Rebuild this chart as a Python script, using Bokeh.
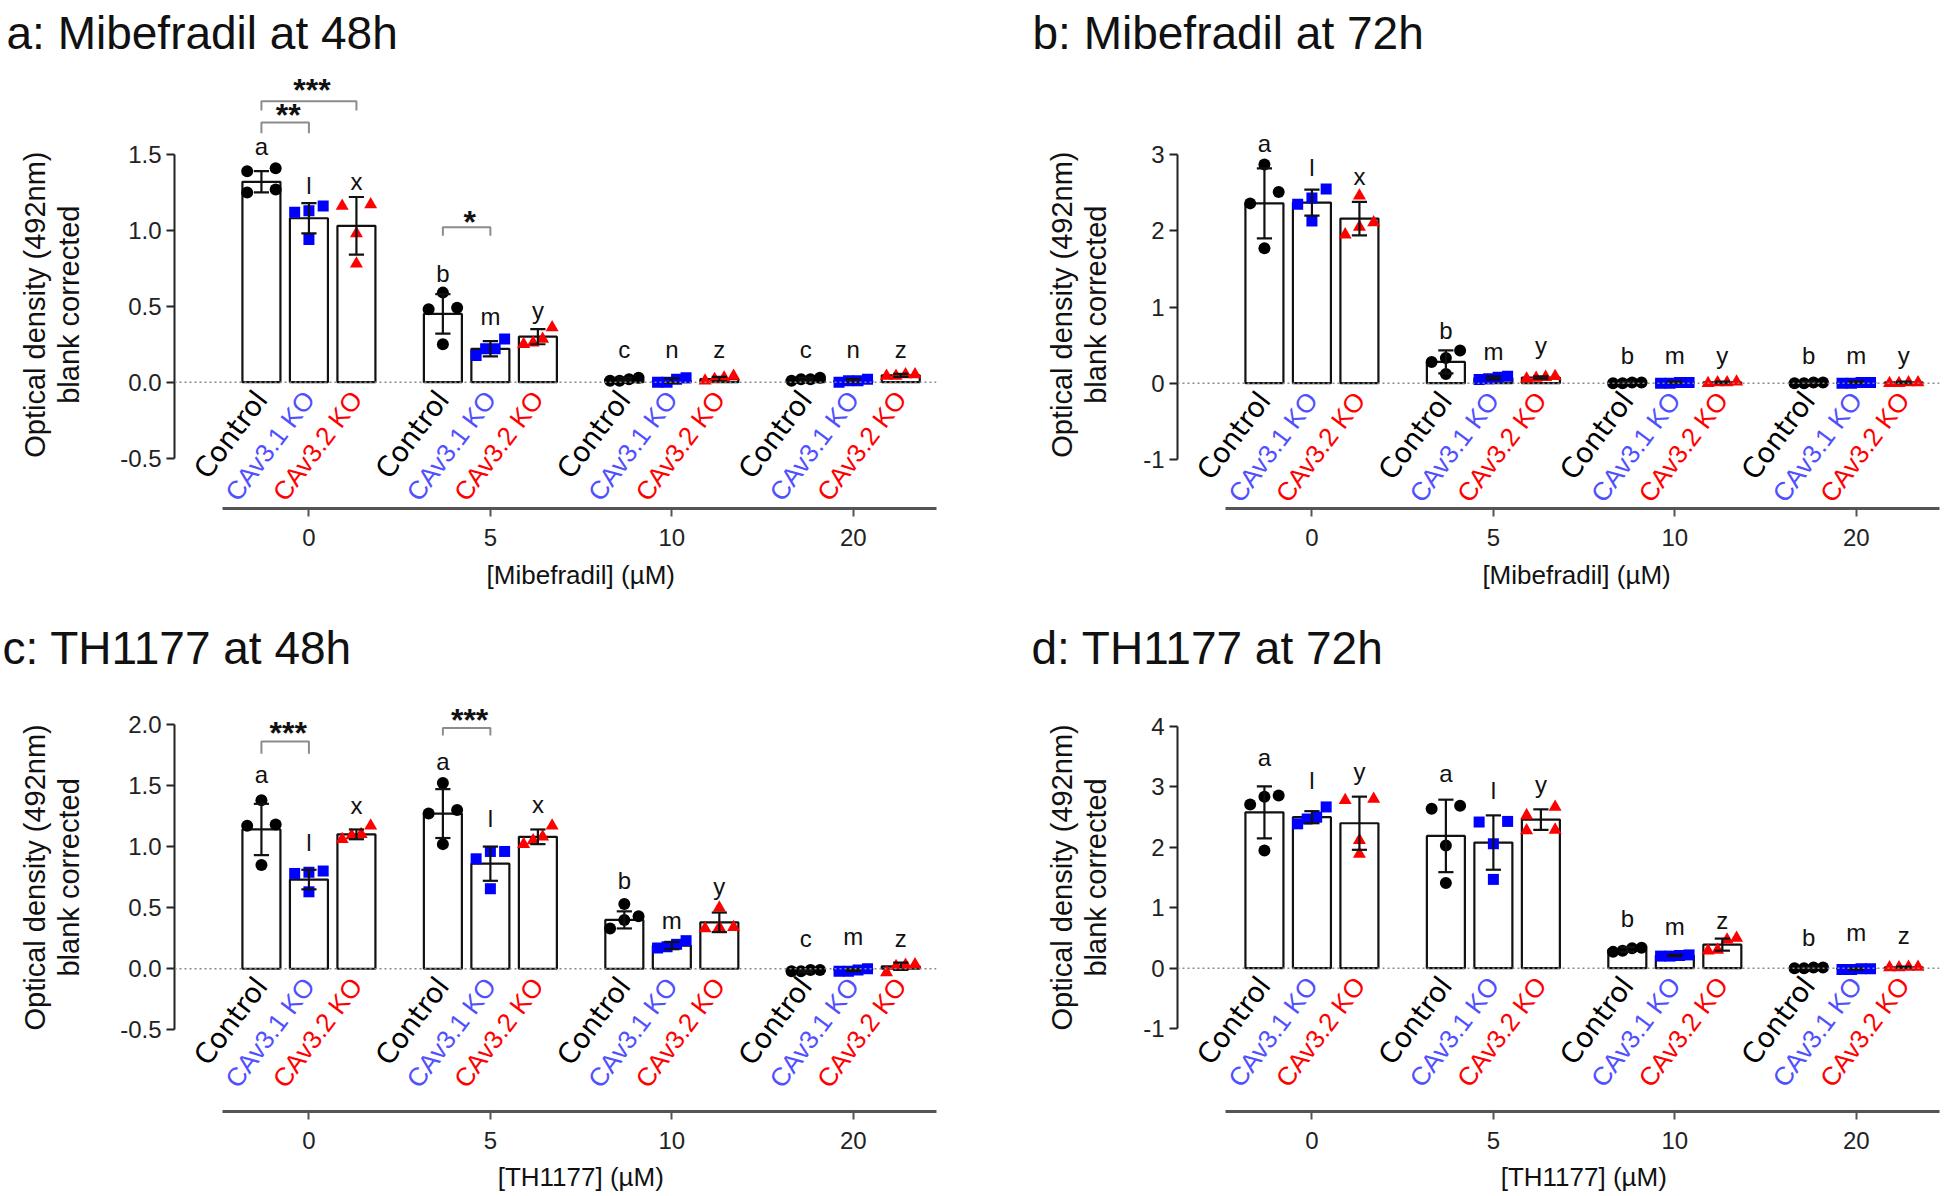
import math
from bokeh.plotting import figure
from bokeh.models import Range1d, FixedTicker, Span, ColumnDataSource
from bokeh.layouts import row, column
from bokeh.embed import file_html
from bokeh.resources import INLINE
from bokeh.core.properties import value

# ------------------------------------------------------------------ data
cell_lines = ["Control", "CAv3.1 KO", "CAv3.2 KO"]
doses = ["0", "5", "10", "20"]
y_title_lines = ["Optical density (492nm)", "blank corrected"]

# a: Mibefradil at 48h
a_ctrl_mean = [1.32, 0.45, 0.02, 0.02]
a_ctrl_sd = [0.07, 0.13, 0.01, 0.01]
a_ko31_mean = [1.08, 0.22, 0.01, 0.01]
a_ko31_sd = [0.10, 0.05, 0.015, 0.01]
a_ko32_mean = [1.03, 0.30, 0.02, 0.045]
a_ko32_sd = [0.19, 0.05, 0.015, 0.01]
a_ctrl_pts = [[1.39, 1.41, 1.25, 1.27], [0.59, 0.49, 0.48, 0.25], [0.01, 0.02, 0.03, 0.01], [0.02, 0.03, 0.01, 0.02]]
a_ko31_pts = [[1.16, 1.12, 1.13, 0.94], [0.175, 0.22, 0.285, 0.22], [0.0, 0.03, 0.02, 0.0], [0.0, 0.01, 0.02, 0.01]]
a_ko32_pts = [[1.16, 1.17, 0.98, 0.78], [0.25, 0.285, 0.36, 0.26], [0.01, 0.04, 0.02, 0.03], [0.04, 0.05, 0.04, 0.05]]
a_letters = ["a", "l", "x", "b", "m", "y", "c", "n", "z", "c", "n", "z"]
a_letter_y = [1.54, 1.28, 1.31, 0.70, 0.42, 0.46, 0.20, 0.20, 0.20, 0.20, 0.20, 0.20]
a_brackets = [(0, 0, 1, 1.71, 1.64, "**", 1.79), (0, 0, 2, 1.85, 1.79, "***", 1.96), (1, 0, 1, 1.02, 0.965, "*", 1.09)]
a_yticks = [-0.5, 0.0, 0.5, 1.0, 1.5]
a_yticklabels = ["-0.5", "0.0", "0.5", "1.0", "1.5"]

# b: Mibefradil at 72h
b_ctrl_mean = [2.36, 0.28, 0.01, 0.01]
b_ctrl_sd = [0.46, 0.15, 0.01, 0.01]
b_ko31_mean = [2.37, 0.07, 0.01, 0.01]
b_ko31_sd = [0.17, 0.02, 0.01, 0.01]
b_ko32_mean = [2.16, 0.075, 0.01, 0.01]
b_ko32_sd = [0.22, 0.015, 0.01, 0.01]
b_ctrl_pts = [[2.87, 2.51, 2.36, 1.77], [0.43, 0.33, 0.28, 0.12], [0.0, 0.01, 0.01, 0.0], [0.0, 0.01, 0.01, 0.0]]
b_ko31_pts = [[2.43, 2.55, 2.35, 2.13], [0.09, 0.06, 0.05, 0.08], [0.0, 0.01, 0.01, 0.0], [0.01, 0.0, 0.0, 0.01]]
b_ko32_pts = [[2.46, 2.11, 2.05, 1.95], [0.08, 0.09, 0.07, 0.06], [0.0, 0.01, 0.01, 0.02], [0.0, 0.01, 0.0, 0.01]]
b_letters = ["a", "l", "x", "b", "m", "y", "b", "m", "y", "b", "m", "y"]
b_letter_y = [3.12, 2.81, 2.68, 0.66, 0.39, 0.47, 0.34, 0.34, 0.34, 0.34, 0.34, 0.34]
b_brackets = []
b_yticks = [-1, 0, 1, 2, 3]
b_yticklabels = ["-1", "0", "1", "2", "3"]

# c: TH1177 at 48h
c_ctrl_mean = [1.14, 1.27, 0.40, -0.02]
c_ctrl_sd = [0.21, 0.20, 0.07, 0.01]
c_ko31_mean = [0.73, 0.86, 0.19, -0.01]
c_ko31_sd = [0.08, 0.14, 0.03, 0.01]
c_ko32_mean = [1.10, 1.08, 0.38, 0.02]
c_ko32_sd = [0.04, 0.06, 0.08, 0.03]
c_ctrl_pts = [[1.38, 1.18, 1.17, 0.85], [1.52, 1.30, 1.27, 1.02], [0.53, 0.43, 0.40, 0.33], [-0.02, -0.01, -0.02, -0.01]]
c_ko31_pts = [[0.80, 0.79, 0.78, 0.63], [0.96, 0.96, 0.90, 0.655], [0.17, 0.23, 0.18, 0.20], [-0.02, 0.0, -0.01, -0.02]]
c_ko32_pts = [[1.06, 1.17, 1.10, 1.09], [1.17, 1.08, 1.02, 1.05], [0.50, 0.33, 0.34, 0.34], [-0.03, 0.035, 0.02, 0.03]]
c_letters = ["a", "l", "x", "a", "l", "x", "b", "m", "y", "c", "m", "z"]
c_letter_y = [1.57, 1.02, 1.32, 1.68, 1.21, 1.33, 0.71, 0.38, 0.66, 0.23, 0.25, 0.23]
c_brackets = [(0, 0, 1, 1.86, 1.76, "***", 1.97), (1, 0, 1, 1.97, 1.91, "***", 2.08)]
c_yticks = [-0.5, 0.0, 0.5, 1.0, 1.5, 2.0]
c_yticklabels = ["-0.5", "0.0", "0.5", "1.0", "1.5", "2.0"]

# d: TH1177 at 72h
d_ctrl_mean = [2.58, 2.19, 0.31, 0.005]
d_ctrl_sd = [0.43, 0.60, 0.04, 0.01]
d_ko31_mean = [2.50, 2.08, 0.21, -0.015]
d_ko31_sd = [0.10, 0.45, 0.01, 0.01]
d_ko32_mean = [2.40, 2.46, 0.39, 0.015]
d_ko32_sd = [0.44, 0.17, 0.10, 0.01]
d_ctrl_pts = [[2.86, 2.84, 2.71, 1.95], [2.64, 2.69, 2.03, 1.41], [0.27, 0.34, 0.29, 0.33], [0.0, 0.01, 0.0, 0.01]]
d_ko31_pts = [[2.39, 2.50, 2.67, 2.47], [2.42, 2.43, 2.06, 1.47], [0.20, 0.22, 0.21, 0.20], [-0.02, -0.01, -0.02, -0.01]]
d_ko32_pts = [[2.78, 2.80, 2.12, 1.89], [2.53, 2.67, 2.28, 2.29], [0.29, 0.50, 0.30, 0.47], [0.01, 0.02, 0.02, 0.01]]
d_letters = ["a", "l", "y", "a", "l", "y", "b", "m", "z", "b", "m", "z"]
d_letter_y = [3.46, 3.08, 3.22, 3.19, 2.91, 3.01, 0.79, 0.66, 0.76, 0.47, 0.55, 0.50]
d_brackets = []
d_yticks = [-1, 0, 1, 2, 3, 4]
d_yticklabels = ["-1", "0", "1", "2", "3", "4"]

# ------------------------------------------------------------------ style / layout
BAR_PX = 47.5          # pixels per bar slot
GS = 3.82              # group spacing in bar slots
BAR_W = 0.8
X0 = -1.83
AXIS_X_START = -0.82
CAP = 0.16
MARK_COLORS = ["#000000", "#0000ff", "#ff0000"]
LABEL_COLORS = ["#000000", "#5050ff", "#ff0000"]
LABEL_FONTS = ["DejaVu Sans", "Liberation Sans", "Liberation Sans"]
LABEL_SIZES = ["28px", "26px", "26px"]
MARKERS = ["circle", "square", "triangle"]
MARK_SIZES = [12, 11, 13]
FONT = "Liberation Sans"
NBSP = "\u00a0"


def spread(vals, pxu):
    order = sorted(range(len(vals)), key=lambda i: vals[i])
    clusters = []
    for i in order:
        if clusters and (vals[i] - vals[clusters[-1][-1]]) * pxu < 12:
            clusters[-1].append(i)
        else:
            clusters.append([i])
    offs = [0.0] * len(vals)
    for cl in clusters:
        n = len(cl)
        if n > 1:
            for k, i in enumerate(cl):
                offs[i] = -0.3 + 0.6 * k / (n - 1)
    return offs


def build(cfg):
    W, H = cfg["W"], cfg["H"]
    fl, fr, ft, fb = cfg["fl"], cfg["fr"], cfg["ft"], cfg["fb"]
    x0 = X0
    x1 = X0 + (fr - fl) / BAR_PX
    ys, ye = cfg["ys"], cfg["ye"]
    pxu = (fb - ft) / (ye - ys)
    p = figure(width=W, height=H, x_range=Range1d(x0, x1), y_range=Range1d(ys, ye),
               output_backend="svg", toolbar_location=None,
               min_border_left=fl, min_border_right=W - fr,
               min_border_top=ft, min_border_bottom=H - fb)
    p.outline_line_color = None
    p.grid.visible = False
    p.background_fill_color = "white"
    p.border_fill_color = "white"

    # panel title
    p.title.text = cfg["title"]
    p.title.align = "left"
    p.title.offset = cfg["tx"] - fl
    p.title.standoff = 0
    p.title.vertical_align = "top"
    p.title.text_font = FONT
    p.title.text_font_style = "normal"
    p.title.text_font_size = "46px"
    p.title.text_color = "#111111"

    # y axis
    yax = p.yaxis[0]
    yt = cfg["yticks"]
    yax.ticker = FixedTicker(ticks=yt)
    yax.major_label_overrides = {t: s for t, s in zip(yt, cfg["yticklabels"])}
    yax.bounds = (yt[0], yt[-1])
    yax.axis_line_width = 2
    yax.axis_line_color = "#222222"
    yax.major_tick_line_width = 2
    yax.major_tick_line_color = "#222222"
    yax.major_tick_in = 0
    yax.major_tick_out = 8
    yax.minor_tick_line_color = None
    yax.major_label_text_font = FONT
    yax.major_label_text_font_size = "24px"
    yax.major_label_text_color = "#222222"
    yax.major_label_standoff = 5
    pad = NBSP * cfg["ypad"]
    if cfg["ypad_end"]:
        lines = [t + pad for t in y_title_lines]
    else:
        lines = [pad + t for t in y_title_lines]
    yax.axis_label = "\n".join(lines)
    yax.axis_label_text_font = FONT
    yax.axis_label_text_font_style = "normal"
    yax.axis_label_text_font_size = "29px"
    yax.axis_label_text_line_height = 1.06
    yax.axis_label_text_color = "#111111"
    yax.axis_label_standoff = cfg["ylst"]

    # group (dose) axis
    xax = p.xaxis[0]
    centers = [g * GS + 1 for g in range(len(doses))]
    xax.ticker = FixedTicker(ticks=centers)
    xax.major_label_overrides = {c: d for c, d in zip(centers, doses)}
    xax.bounds = (AXIS_X_START, x1)
    xax.axis_line_width = 3
    xax.axis_line_color = "#555555"
    xax.major_tick_line_width = 2
    xax.major_tick_line_color = "#555555"
    xax.major_tick_in = 0
    xax.major_tick_out = 8
    xax.minor_tick_line_color = None
    xax.major_label_text_font = FONT
    xax.major_label_text_font_size = "24px"
    xax.major_label_text_color = "#222222"
    xax.major_label_standoff = 12
    xax.axis_label = NBSP * cfg["xpad"] + cfg["xtitle"]
    xax.axis_label_text_font = FONT
    xax.axis_label_text_font_style = "normal"
    xax.axis_label_text_font_size = "26px"
    xax.axis_label_text_color = "#111111"
    xax.axis_label_standoff = cfg["xlst"]

    # zero dotted line
    p.add_layout(Span(location=0, dimension="width", line_color="#8a8a8a", line_width=1.5, line_dash="2 3"))

    means = cfg["means"]
    sds = cfg["sds"]
    pts = cfg["pts"]
    bar_x, bar_top = [], []
    lab_t, lab_c, lab_f, lab_s = [], [], [], []
    for g in range(len(doses)):
        for s in range(3):
            bar_x.append(g * GS + s)
            bar_top.append(means[s][g])
            lab_t.append(cell_lines[s])
            lab_c.append(LABEL_COLORS[s])
            lab_f.append(LABEL_FONTS[s])
            lab_s.append(LABEL_SIZES[s])
    p.vbar(x=bar_x, top=bar_top, bottom=0, width=BAR_W, fill_color="white",
           line_color="#111111", line_width=2.2)

    # individual points
    for s in range(3):
        px, py = [], []
        for g in range(len(doses)):
            vals = pts[s][g]
            offs = spread(vals, pxu)
            for v, o in zip(vals, offs):
                px.append(g * GS + s + o)
                py.append(v)
        p.scatter(px, py, marker=MARKERS[s], size=MARK_SIZES[s], fill_color=MARK_COLORS[s],
                  line_color=MARK_COLORS[s], line_width=0)

    # error bars (mean +/- SD)
    ex0, ey0, ex1, ey1 = [], [], [], []
    for g in range(len(doses)):
        for s in range(3):
            x = g * GS + s
            m, sd = means[s][g], sds[s][g]
            ex0 += [x, x - CAP, x - CAP]
            ex1 += [x, x + CAP, x + CAP]
            ey0 += [m - sd, m + sd, m - sd]
            ey1 += [m + sd, m + sd, m - sd]
    p.segment(ex0, ey0, ex1, ey1, line_color="#111111", line_width=2.2)

    # significance letters
    p.text(x=bar_x, y=cfg["letter_y"], text=cfg["letters"], text_align="center", text_baseline="middle",
           y_offset=-2, text_font=value(FONT), text_font_size="24px", text_color="#111111")

    # brackets with stars
    for (g, i, j, ytop, yleg, stars, ystar) in cfg["brackets"]:
        xa, xb = g * GS + i, g * GS + j
        p.line([xa, xa, xb, xb], [yleg, ytop, ytop, yleg], line_color="#8c8c8c", line_width=2)
        p.text(x=[(xa + xb) / 2], y=[ystar], text=[stars], text_align="center", text_baseline="middle",
               x_offset=3, y_offset=5, text_font=value(FONT), text_font_size="32px",
               text_font_style="bold", text_color="#111111")

    # rotated category labels
    lab_src = ColumnDataSource(dict(x=bar_x, y=[0] * len(bar_x), text=lab_t, color=lab_c,
                                    font=lab_f, size=lab_s))
    p.text(x="x", y="y", text="text", text_color="color", text_font="font", text_font_size="size",
           angle=53, angle_units="deg", text_align="right", text_baseline="middle",
           x_offset=0, y_offset=12, source=lab_src)
    return p


panels = [
    dict(title="a: Mibefradil at 48h", xtitle="[Mibefradil] (\u00b5M)",
         means=[a_ctrl_mean, a_ko31_mean, a_ko32_mean], sds=[a_ctrl_sd, a_ko31_sd, a_ko32_sd],
         pts=[a_ctrl_pts, a_ko31_pts, a_ko32_pts], letters=a_letters, letter_y=a_letter_y,
         brackets=a_brackets, yticks=a_yticks, yticklabels=a_yticklabels,
         W=972, H=598, fl=174, fr=936, ft=60, fb=508, ys=-0.832, ye=2.119, tx=6,
         ypad=5, ypad_end=True, ylst=32, xlst=11, xpad=7),
    dict(title="b: Mibefradil at 72h", xtitle="[Mibefradil] (\u00b5M)",
         means=[b_ctrl_mean, b_ko31_mean, b_ko32_mean], sds=[b_ctrl_sd, b_ko31_sd, b_ko32_sd],
         pts=[b_ctrl_pts, b_ko31_pts, b_ko32_pts], letters=b_letters, letter_y=b_letter_y,
         brackets=b_brackets, yticks=b_yticks, yticklabels=b_yticklabels,
         W=970, H=598, fl=205, fr=967, ft=60, fb=508, ys=-1.644, ye=4.235, tx=60,
         ypad=5, ypad_end=True, ylst=28, xlst=11, xpad=5),
    dict(title="c: TH1177 at 48h", xtitle="[TH1177] (\u00b5M)",
         means=[c_ctrl_mean, c_ko31_mean, c_ko32_mean], sds=[c_ctrl_sd, c_ko31_sd, c_ko32_sd],
         pts=[c_ctrl_pts, c_ko31_pts, c_ko32_pts], letters=c_letters, letter_y=c_letter_y,
         brackets=c_brackets, yticks=c_yticks, yticklabels=c_yticklabels,
         W=972, H=596, fl=174, fr=936, ft=77, fb=513, ys=-1.168, ye=2.400, tx=2,
         ypad=4, ypad_end=False, ylst=32, xlst=10, xpad=7),
    dict(title="d: TH1177 at 72h", xtitle="[TH1177] (\u00b5M)",
         means=[d_ctrl_mean, d_ko31_mean, d_ko32_mean], sds=[d_ctrl_sd, d_ko31_sd, d_ko32_sd],
         pts=[d_ctrl_pts, d_ko31_pts, d_ko32_pts], letters=d_letters, letter_y=d_letter_y,
         brackets=d_brackets, yticks=d_yticks, yticklabels=d_yticklabels,
         W=970, H=596, fl=205, fr=967, ft=77, fb=513, ys=-2.373, ye=4.846, tx=59,
         ypad=4, ypad_end=False, ylst=28, xlst=10, xpad=7),
]

figs = [build(c) for c in panels]
layout = column(row(figs[0], figs[1]), row(figs[2], figs[3]))

with open("out.html", "w") as f:
    f.write(file_html(layout, INLINE))
